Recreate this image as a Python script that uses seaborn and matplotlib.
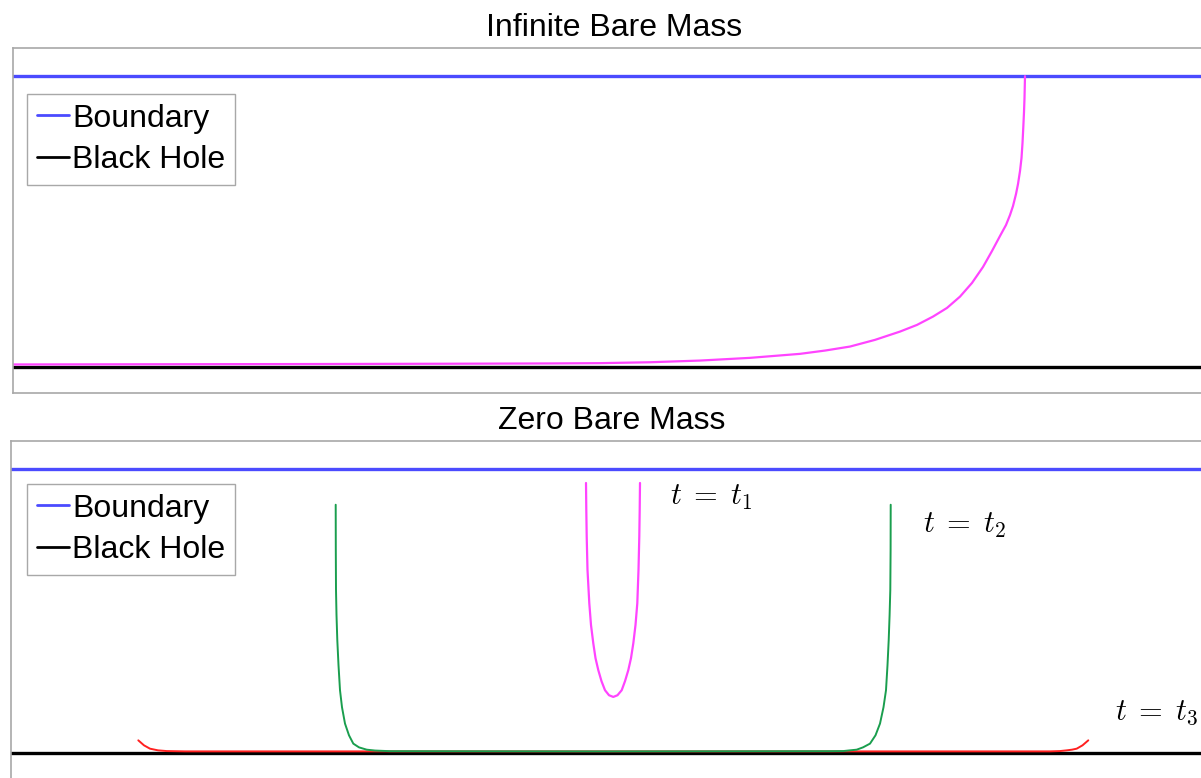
import numpy as np
import pandas as pd
import matplotlib
matplotlib.use("Agg")
import matplotlib.pyplot as plt
import seaborn as sns

# ---- data -------------------------------------------------------------
# Horizontal extent shared by both panels (boundary and black hole lines)
x_span = [0.0, 12.02]
boundary_level = [1.0, 1.0]
horizon_level = [0.0, 0.0]

# Infinite bare mass: trajectory climbing from the horizon to the boundary
inf_x = [0.00, 1.37, 2.87, 4.37, 5.37, 5.87, 6.37, 6.87, 7.37, 7.87, 8.12,
         8.37, 8.62, 8.87, 9.04, 9.20, 9.34, 9.47, 9.59, 9.70, 9.79, 9.87,
         9.93, 9.97, 10.00, 10.03, 10.05, 10.07, 10.085, 10.095, 10.103,
         10.11, 10.115, 10.12]
inf_y = [0.0082, 0.0089, 0.0096, 0.0107, 0.0117, 0.0127, 0.0158, 0.0216,
         0.0309, 0.0447, 0.0560, 0.0698, 0.0928, 0.1213, 0.1443, 0.1729,
         0.2027, 0.2416, 0.2887, 0.3436, 0.3986, 0.4502, 0.4880, 0.5223,
         0.5533, 0.5945, 0.6289, 0.6735, 0.7182, 0.7698, 0.8247, 0.8763,
         0.9244, 1.0]

# Zero bare mass: snapshots at t1, t2, t3
t1_x = [5.750, 5.753, 5.757, 5.765, 5.783, 5.800, 5.823, 5.845, 5.873,
        5.905, 5.940, 5.980, 6.023, 6.065, 6.107, 6.140, 6.173, 6.200,
        6.223, 6.245, 6.263, 6.275, 6.283, 6.287, 6.290]
t1_y = [0.9496, 0.8556, 0.7617, 0.6444, 0.5271, 0.4507, 0.3863, 0.3345,
        0.2923, 0.2535, 0.2218, 0.2042, 0.1982, 0.2042, 0.2218, 0.2535,
        0.2923, 0.3345, 0.3863, 0.4507, 0.5271, 0.6444, 0.7617, 0.8556,
        0.9496]

t2_x = [3.247, 3.248, 3.250, 3.255, 3.263, 3.275, 3.290, 3.310, 3.340,
        3.380, 3.423, 3.480, 3.557, 3.640, 3.790, 5.890, 8.190, 8.323,
        8.390, 8.457, 8.520, 8.590, 8.645, 8.690, 8.725, 8.750, 8.765,
        8.777, 8.786, 8.793, 8.796, 8.797]
t2_y = [0.8732, 0.7148, 0.5739, 0.4859, 0.3979, 0.3099, 0.2218, 0.1620,
        0.1046, 0.0634, 0.0342, 0.0211, 0.0130, 0.0099, 0.0077, 0.0070,
        0.0077, 0.0081, 0.0106, 0.0130, 0.0211, 0.0342, 0.0634, 0.1046,
        0.1620, 0.2218, 0.3099, 0.3979, 0.4859, 0.5739, 0.7148, 0.8732]

t3_x = [1.273, 1.330, 1.390, 1.470, 1.557, 1.740, 6.000, 10.390, 10.490,
        10.557, 10.610, 10.657, 10.715, 10.773]
t3_y = [0.0458, 0.0282, 0.0165, 0.0106, 0.0081, 0.0070, 0.0070, 0.0070,
        0.0081, 0.0106, 0.0130, 0.0165, 0.0282, 0.0458]

panel_titles = ["Infinite Bare Mass", "Zero Bare Mass"]
legend_labels = ["Boundary", "Black Hole"]
time_labels = [r"$t\;=\;t_1$", r"$t\;=\;t_2$", r"$t\;=\;t_3$"]
time_label_pos = [(6.59, 0.901), (9.12, 0.803), (11.04, 0.144)]

# ---- style ------------------------------------------------------------
sns.set_style("white")
plt.rcParams["font.family"] = ["Liberation Sans", "DejaVu Sans"]
plt.rcParams["mathtext.fontset"] = "cm"
plt.rcParams["text.color"] = "black"

BLUE = "#4b4bff"
BLACK = "#000000"
MAGENTA = "#ff44ff"
GREEN = "#1a9e4e"
RED = "#ff2020"
FRAME = "#a8a8a8"

fig = plt.figure(figsize=(12.01, 7.78), dpi=100)
ax_top = fig.add_axes([13 / 1201, 1 - 393 / 778, 1202 / 1201, 345 / 778])
ax_bot = fig.add_axes([11 / 1201, 1 - 779 / 778, 1202 / 1201, 338 / 778])


def draw_reference_lines(ax):
    sns.lineplot(x=x_span, y=boundary_level, ax=ax, color=BLUE, lw=2.4,
                 label=legend_labels[0])
    sns.lineplot(x=x_span, y=horizon_level, ax=ax, color=BLACK, lw=2.4,
                 label=legend_labels[1])


def curve(ax, xs, ys, color, lw):
    df = pd.DataFrame({"x": xs, "y": ys})
    sns.lineplot(data=df, x="x", y="y", ax=ax, color=color, lw=lw,
                 sort=False, estimator=None)


def finish(ax, title, anchor):
    ax.set_xlim(x_span)
    ax.set_ylim(-0.09, 1.097)
    ax.set_xticks([])
    ax.set_yticks([])
    ax.set_xlabel("")
    ax.set_ylabel("")
    for sp in ax.spines.values():
        sp.set_color(FRAME)
        sp.set_linewidth(1.2)
    ax.set_title(title, fontsize=23, pad=8.6, color="black")
    handles, labels = ax.get_legend_handles_labels()
    leg = ax.legend(handles[:2], labels[:2], loc="upper left",
                    bbox_to_anchor=anchor, borderaxespad=0, fontsize=23,
                    handlelength=1.0, handletextpad=0.12, labelspacing=0.36,
                    borderpad=0.3, fancybox=False, framealpha=1,
                    edgecolor=FRAME)
    leg.get_frame().set_linewidth(1.0)
    for h in leg.get_lines():
        h.set_linewidth(2.0)
    for t in leg.get_texts():
        t.set_color("black")


# Top panel
draw_reference_lines(ax_top)
curve(ax_top, inf_x, inf_y, MAGENTA, 1.6)
finish(ax_top, panel_titles[0], (0.0117, 0.8667))

# Bottom panel
draw_reference_lines(ax_bot)
curve(ax_bot, t3_x, t3_y, RED, 1.4)
curve(ax_bot, t2_x, t2_y, GREEN, 1.4)
curve(ax_bot, t1_x, t1_y, MAGENTA, 1.6)
for lbl, (tx, ty) in zip(time_labels, time_label_pos):
    ax_bot.text(tx, ty, lbl, fontsize=22, ha="left", va="center")
finish(ax_bot, panel_titles[1], (0.0133, 0.8728))

fig.savefig("out.png", dpi=100)
